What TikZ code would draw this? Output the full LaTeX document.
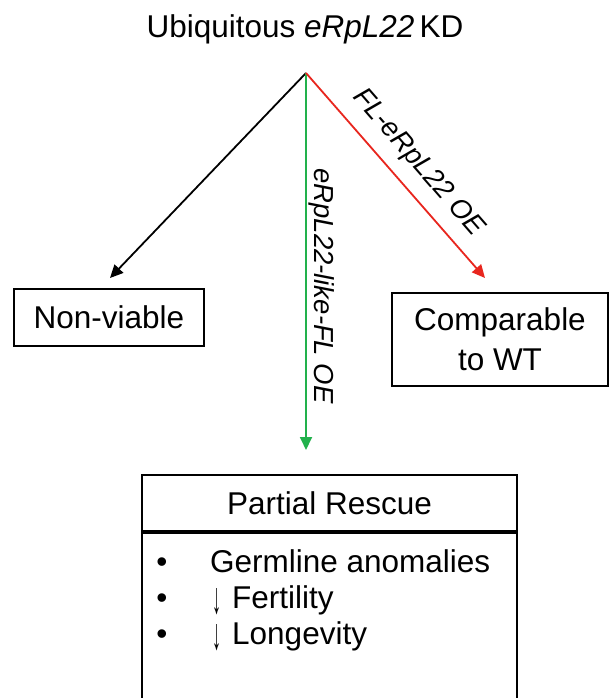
\documentclass[tikz,border=0pt]{standalone}
\usepackage{fontspec}
\setmainfont{Liberation Sans}
\usetikzlibrary{arrows.meta}
\definecolor{arrred}{RGB}{232,38,30}
\definecolor{arrgreen}{RGB}{34,177,76}
\newcommand{\dnarrow}{\hspace{2pt}\raisebox{-5pt}{\resizebox{9pt}{25pt}{↓}}\hspace{11pt}}
\tikzset{
  big/.style={font=\fontsize{31.5}{40}\selectfont},
  lab/.style={font=\fontsize{27.5}{32}\selectfont\itshape, inner sep=0pt},
  box/.style={draw, line width=1.8pt, inner sep=0pt, big, align=center},
  conn/.style={line width=1.8pt, -{Triangle[length=13pt,width=12pt]}},
}
\begin{document}
\begin{tikzpicture}[x=1pt,y=-1pt]
\clip (0,0) rectangle (610,698);
\fill[white] (0,0) rectangle (610,698);
% title
\node[big, anchor=base, inner sep=0pt] (title) at (305,38) {Ubiquitous \textit{eRpL22}\,KD};
\coordinate (apex) at (306,73);
% outcome boxes
\node[box, minimum width=190pt, minimum height=57pt] (nv) at (109,317.5) {Non-viable};
\node[box, minimum width=216pt, minimum height=93pt] (cmp) at (500,339.5) {Comparable\\to WT};
% partial rescue box
\node[box, minimum width=375pt, minimum height=56pt] (pr) at (329.5,503) {Partial Rescue};
\node[box, minimum width=375pt, minimum height=200pt, anchor=north] (prl) at (pr.south) {};
% arrow end points
\coordinate (nvEnd) at (110,278);
\coordinate (cmpEnd) at (485,278);
\coordinate (prEnd) at (306,450);
% connectors
\draw[conn, black] (apex) -- (nvEnd);
\draw[conn, arrgreen] (apex) -- (prEnd);
\draw[conn, arrred] (apex) -- (cmpEnd);
% connector labels
\node[lab, rotate=-49] (redlab) at (418,163) {FL-eRpL22 OE};
\node[lab, rotate=-90] (greenlab) at (322,286) {eRpL22-like-FL OE};
% bullets
\foreach \yy/\txt [count=\i] in {572/Germline anomalies, 608/{\dnarrow Fertility}, 644/{\dnarrow Longevity}}{
  \node[big, anchor=base, inner sep=0pt] (b\i) at (162,\yy) {•};
  \node[big, anchor=base west, inner sep=0pt] (t\i) at (210,\yy) {\txt};
}
\end{tikzpicture}
\end{document}
